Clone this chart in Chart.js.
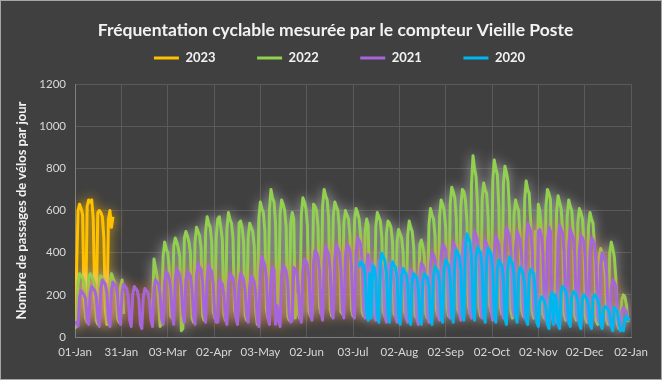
<!DOCTYPE html>
<html><head><meta charset="utf-8">
<script src="https://cdn.jsdelivr.net/npm/chart.js@4.4.1/dist/chart.umd.min.js"></script>
<style>html,body{margin:0;padding:0;background:#404040;}canvas{display:block;}</style>
</head><body>
<canvas id="c" width="662" height="380"></canvas>
<script>
const tickLabels = ['01-Jan','31-Jan','03-Mar','02-Apr','03-May','02-Jun','03-Jul','02-Aug','02-Sep','02-Oct','02-Nov','02-Dec','02-Jan'];
const seriesNames = ['2023','2022','2021','2020'];

const y2023 = [50,300,600,630,610,580,170,110,620,650,640,650,560,190,120,590,600,590,570,470,130,60,560,600,520,570];

const y2022 = [
40,60,250,300,290,280,260,
90,70,280,300,290,270,250,
80,60,270,290,280,270,240,
70,60,260,300,280,260,230,
90,70,240,270,110,null,null,
null,null,null,null,null,null,null,
null,null,null,null,null,null,null,
null,null,120,370,330,290,180,
50,60,380,450,420,400,330,
100,90,430,470,450,420,380,
30,40,470,500,480,450,400,
90,70,450,520,500,480,420,
100,80,500,570,540,520,450,
120,90,480,560,570,520,460,
110,80,510,590,560,540,470,
130,100,90,540,550,520,450,
100,80,470,540,520,500,430,
120,60,560,640,610,590,500,
130,90,600,700,660,640,540,
110,80,580,650,630,600,520,
100,80,540,590,560,90,200,
110,90,580,660,640,610,530,
120,100,110,630,620,600,520,
140,110,620,700,670,650,560,
130,100,570,640,620,600,520,
120,110,540,600,580,560,480,
130,100,550,610,590,560,480,
120,100,500,560,530,110,300,
130,110,520,590,570,550,470,
120,100,490,550,540,520,450,
110,100,450,510,490,470,400,
120,100,480,550,520,500,420,
100,90,100,440,460,430,380,
110,90,530,610,580,560,480,
130,100,570,650,630,600,520,
140,100,630,710,690,660,560,
130,110,620,700,690,650,550,
150,110,720,860,800,760,620,
140,100,650,730,700,680,560,
150,120,740,840,800,770,620,
140,110,720,810,780,740,600,
120,90,580,650,620,600,480,
130,100,650,740,700,680,540,
120,90,500,100,630,600,500,
110,90,620,700,680,650,100,
100,80,590,670,640,610,500,
110,80,570,650,620,600,490,
100,80,540,610,590,560,450,
90,70,520,590,560,540,430,
80,60,380,420,400,370,300,
80,60,400,450,420,380,280,
60,40,60,180,200,190,150,
70];

const y2021 = [
60,70,50,
190,220,210,200,180,80,60,
210,240,230,220,190,90,50,
230,270,260,250,210,80,50,
220,260,250,240,200,90,60,
210,250,240,230,190,80,50,
200,240,230,220,180,60,40,
190,230,220,210,170,80,50,
230,270,260,250,200,90,60,
260,310,300,280,230,100,60,
270,320,310,290,240,110,70,
270,310,300,290,230,100,60,
290,350,330,320,260,110,70,
280,340,320,310,250,100,70,
70,270,260,250,200,90,60,
250,300,290,280,220,90,60,
250,300,290,270,220,100,70,
240,290,280,260,210,80,50,
320,380,360,340,280,90,60,
280,330,320,60,150,80,50,
290,340,330,310,260,100,70,
80,330,320,300,250,100,70,
310,370,360,340,280,110,80,
350,410,400,380,310,120,80,
360,430,410,390,320,120,90,
370,440,420,400,330,130,90,
380,440,430,410,340,120,90,
400,470,460,440,360,130,90,
340,390,90,360,300,110,80,
300,360,350,330,270,100,70,
290,350,340,320,260,100,70,
280,330,320,300,250,90,70,
270,320,310,290,240,90,60,
290,350,340,320,260,100,70,
340,400,390,370,300,110,80,
380,440,430,410,340,120,90,
380,450,430,410,340,120,80,
390,460,450,430,350,120,90,
420,500,480,460,380,130,90,
390,460,440,420,350,120,80,
400,480,460,440,360,130,90,
440,520,500,480,400,140,100,
420,500,480,460,380,130,90,
450,540,520,500,410,130,90,
100,500,510,480,400,120,80,
450,520,500,90,200,110,70,
450,530,510,490,400,120,80,
430,510,490,470,380,110,80,
410,480,470,450,360,110,70,
400,470,460,440,350,100,70,
340,400,380,360,300,90,60,
230,270,260,240,100,50,40,
120,140,130,120,80];

const start2020 = 187;
const y2020 = [
330,357,350,340,290,110,80,
300,90,340,330,280,100,70,
350,397,380,360,300,110,70,
310,357,340,330,280,100,60,
290,325,310,300,250,90,60,
270,300,290,280,230,80,60,
270,300,290,280,240,90,60,
290,334,320,310,260,100,70,
320,366,350,340,280,100,70,
360,413,400,380,320,110,80,
420,490,470,450,370,120,80,
380,427,410,400,330,110,70,
370,420,410,390,320,100,70,
320,365,350,340,280,90,60,
330,380,360,350,290,100,70,
290,330,320,300,250,80,60,
290,320,310,300,220,70,50,
170,190,180,170,140,60,40,
190,210,60,200,170,60,40,
210,240,230,220,180,70,50,
190,215,210,200,170,60,40,
180,200,190,180,150,60,40,
180,200,190,180,150,60,40,
130,144,140,130,110,50,30,
140,130,120,80,30,40,30,
90,100,80,90];

const toPts = (arr, start) => arr.map((v, i) => ({x: start + i, y: v}));

const LEG_DY = -31, LEG_DX = 24, TITLE_DX = 20;

const bgPlugin = {
  id: 'bg',
  beforeDraw(chart) {
    const ctx = chart.ctx;
    ctx.save();
    ctx.fillStyle = '#404040';
    ctx.fillRect(0, 0, chart.width, chart.height);
    ctx.strokeStyle = '#a6a6a6';
    ctx.lineWidth = 1;
    ctx.strokeRect(0.5, 0.5, chart.width - 1, chart.height - 1);
    ctx.restore();
  }
};
const glowPlugin = {
  id: 'glow',
  beforeDatasetDraw(chart, args) {
    const ds = chart.data.datasets[args.index];
    const ctx = chart.ctx;
    ctx.save();
    ctx.shadowColor = ds.glowColor;
    ctx.shadowBlur = 12;
  },
  afterDatasetDraw(chart) { chart.ctx.restore(); }
};
const boxShift = {
  id: 'boxShift',
  afterLayout(chart) {
    const lg = chart.legend;
    if (lg) { lg.top += LEG_DY; lg.left += LEG_DX; lg.right += LEG_DX; }
    const tb = chart.titleBlock;
    if (tb) { tb.left += TITLE_DX; tb.right += TITLE_DX; }
  }
};

Chart.defaults.font.family = 'Lato';

new Chart(document.getElementById('c'), {
  type: 'line',
  data: {
    datasets: [
      {label: seriesNames[0], data: toPts(y2023, 0), borderColor: '#FFC000', backgroundColor: '#FFC000', glowColor: 'rgba(255,192,0,0.8)', order: 3},
      {label: seriesNames[1], data: toPts(y2022, 0), borderColor: '#92D050', backgroundColor: '#92D050', glowColor: 'rgba(220,220,220,0.75)', order: 2},
      {label: seriesNames[2], data: toPts(y2021, 0), borderColor: '#A665DB', backgroundColor: '#A665DB', glowColor: 'rgba(237,125,49,0.7)', order: 1},
      {label: seriesNames[3], data: toPts(y2020, start2020), borderColor: '#00B6F0', backgroundColor: '#00B6F0', glowColor: 'rgba(150,170,190,0.7)', order: 0}
    ].map(d => Object.assign({borderWidth: 3, pointRadius: 0, tension: 0, fill: false, spanGaps: false, borderJoinStyle: 'round'}, d))
  },
  options: {
    responsive: false,
    animation: false,
    events: [],
    layout: {padding: {left: 0, right: 31, top: 0, bottom: 0}},
    plugins: {
      tooltip: {enabled: false},
      title: {
        display: true,
        text: 'Fréquentation cyclable mesurée par le compteur Vieille Poste',
        color: '#f2f2f2',
        font: {size: 17.5, weight: 'bold'},
        padding: {top: 20, bottom: 0}
      },
      legend: {
        display: true,
        maxHeight: 43,
        labels: {
          color: '#f2f2f2',
          font: {size: 13, weight: 'bold'},
          usePointStyle: true,
          pointStyle: 'line',
          pointStyleWidth: 25,
          padding: 41.5,
          sort: (a, b) => a.datasetIndex - b.datasetIndex
        }
      }
    },
    scales: {
      x: {
        type: 'linear',
        min: 0,
        max: 366,
        afterFit: s => { s.height = 43; },
        ticks: {
          stepSize: 30.5,
          autoSkip: false,
          maxRotation: 0,
          padding: 8,
          color: '#d9d9d9',
          font: {size: 11.5},
          callback: (v, i) => tickLabels[i] ?? ''
        },
        grid: {color: '#5a5a5a', drawTicks: false, lineWidth: 1},
        border: {color: '#7f7f7f', width: 1}
      },
      y: {
        min: 0,
        max: 1200,
        afterFit: s => { s.width = 75; },
        ticks: {stepSize: 200, padding: 9, color: '#d9d9d9', font: {size: 11.5}, callback: v => String(v)},
        grid: {color: '#5a5a5a', drawTicks: false, lineWidth: 1},
        border: {color: '#7f7f7f', width: 1},
        title: {
          display: true,
          text: 'Nombre de passages de vélos par jour',
          color: '#f2f2f2',
          font: {size: 13, weight: 'bold'},
          padding: {top: 14, bottom: 0}
        }
      }
    }
  },
  plugins: [bgPlugin, glowPlugin, boxShift]
});
</script>
</body></html>
